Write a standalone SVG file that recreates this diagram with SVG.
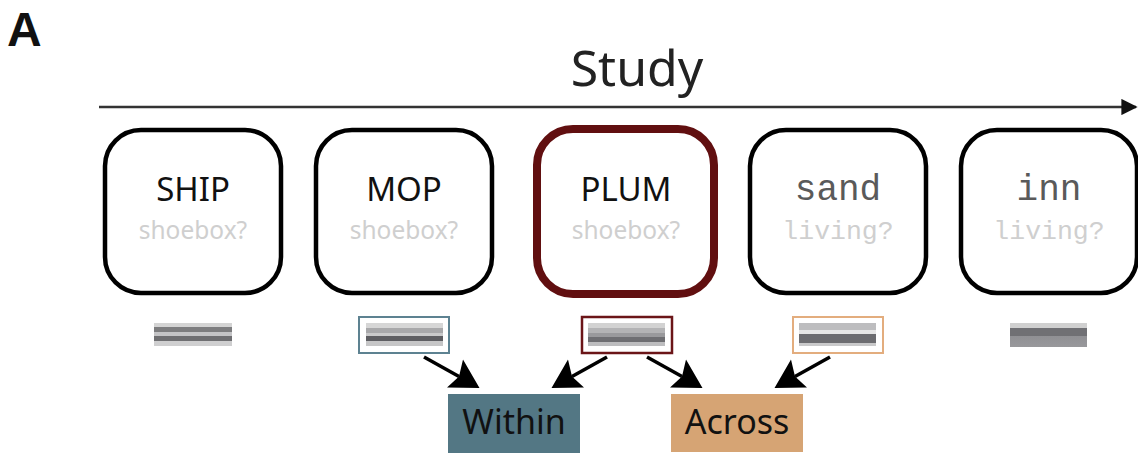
<svg xmlns="http://www.w3.org/2000/svg" width="1138" height="456" viewBox="0 0 1138 456">
<style>
.card{fill:#fff;stroke:#000;stroke-width:4.5}
.word{font-family:"Source Sans Pro","Noto Sans",sans-serif;font-size:33px;fill:#111;text-anchor:middle}
.cue{font-family:"Source Sans Pro","Noto Sans",sans-serif;font-size:24.5px;fill:#cfcfcf;text-anchor:middle}
.mword{font-family:"Liberation Mono",monospace;font-size:36px;fill:#5a5a5a;text-anchor:middle}
.mcue{font-family:"Liberation Mono",monospace;font-size:26.5px;fill:#cfcfcf;text-anchor:middle}
.lab{font-family:"Source Sans Pro","Noto Sans",sans-serif;font-size:34px;fill:#111;text-anchor:middle}
.conn{stroke:#000;stroke-width:3.5;fill:none}
.head{fill:#000}
</style>
<defs>
<marker id="ah2" viewBox="0 0 10 10" refX="9" refY="5" markerWidth="6.5" markerHeight="6.5" orient="auto"><path d="M0,0 L10,5 L0,10 z" fill="#111"/></marker>
<linearGradient id="g1" x1="0" y1="0" x2="0" y2="1">
<stop offset="0" stop-color="#d4d4d4"/><stop offset="0.18" stop-color="#d4d4d4"/>
<stop offset="0.18" stop-color="#7d7d7f"/><stop offset="0.4" stop-color="#7d7d7f"/>
<stop offset="0.4" stop-color="#c4c4c6"/><stop offset="0.58" stop-color="#c4c4c6"/>
<stop offset="0.58" stop-color="#6f6f72"/><stop offset="0.8" stop-color="#6f6f72"/>
<stop offset="0.8" stop-color="#cfcfd0"/><stop offset="1" stop-color="#cfcfd0"/>
</linearGradient>
<linearGradient id="g2" x1="0" y1="0" x2="0" y2="1">
<stop offset="0" stop-color="#d6d6d6"/><stop offset="0.2" stop-color="#d6d6d6"/>
<stop offset="0.2" stop-color="#a8a8aa"/><stop offset="0.45" stop-color="#a8a8aa"/>
<stop offset="0.45" stop-color="#c9c9ca"/><stop offset="0.58" stop-color="#c9c9ca"/>
<stop offset="0.58" stop-color="#5e5e62"/><stop offset="0.8" stop-color="#5e5e62"/>
<stop offset="0.8" stop-color="#c6c6c7"/><stop offset="1" stop-color="#c6c6c7"/>
</linearGradient>
<linearGradient id="g3" x1="0" y1="0" x2="0" y2="1">
<stop offset="0" stop-color="#d2d2d2"/><stop offset="0.2" stop-color="#d2d2d2"/>
<stop offset="0.2" stop-color="#b3b3b5"/><stop offset="0.42" stop-color="#b3b3b5"/>
<stop offset="0.42" stop-color="#99999c"/><stop offset="0.62" stop-color="#99999c"/>
<stop offset="0.62" stop-color="#6e6e72"/><stop offset="0.82" stop-color="#6e6e72"/>
<stop offset="0.82" stop-color="#bdbdbf"/><stop offset="1" stop-color="#bdbdbf"/>
</linearGradient>
<linearGradient id="g4" x1="0" y1="0" x2="0" y2="1">
<stop offset="0" stop-color="#bdbdbf"/><stop offset="0.3" stop-color="#bdbdbf"/>
<stop offset="0.3" stop-color="#e6e6e6"/><stop offset="0.5" stop-color="#e6e6e6"/>
<stop offset="0.5" stop-color="#6c6c70"/><stop offset="0.85" stop-color="#6c6c70"/>
<stop offset="0.85" stop-color="#c9c9ca"/><stop offset="1" stop-color="#c9c9ca"/>
</linearGradient>
<linearGradient id="g5" x1="0" y1="0" x2="0" y2="1">
<stop offset="0" stop-color="#d0d0d0"/><stop offset="0.2" stop-color="#d0d0d0"/>
<stop offset="0.2" stop-color="#707074"/><stop offset="0.55" stop-color="#707074"/>
<stop offset="0.55" stop-color="#909094"/><stop offset="1" stop-color="#98989b"/>
</linearGradient>
</defs>
<rect width="1138" height="456" fill="#fff"/>
<text x="7" y="46" font-family="Liberation Sans,Arial,sans-serif" font-weight="bold" font-size="48" fill="#111">A</text>
<g id="timeline">
<text x="637" y="86" font-family="Source Sans Pro,Noto Sans,sans-serif" font-size="50" fill="#222" text-anchor="middle">Study</text>
<line x1="99" y1="107" x2="1136" y2="107" stroke="#333" stroke-width="2.5" marker-end="url(#ah2)"/>
</g>
<g id="node-ship">
<rect class="card" x="105" y="130" width="176" height="163" rx="36"/>
<text class="word" x="193" y="201">SHIP</text>
<text class="cue" x="193" y="239">shoebox?</text>
</g>
<g id="node-mop">
<rect class="card" x="316" y="130" width="176" height="163" rx="36"/>
<text class="word" x="404" y="201">MOP</text>
<text class="cue" x="404" y="239">shoebox?</text>
</g>
<g id="node-plum">
<rect x="537" y="129" width="177" height="165" rx="36" fill="#fff" stroke="#610f10" stroke-width="8"/>
<text class="word" x="626" y="201">PLUM</text>
<text class="cue" x="626" y="239">shoebox?</text>
</g>
<g id="node-sand">
<rect class="card" x="750" y="130" width="176" height="163" rx="36"/>
<text class="mword" x="838" y="200">sand</text>
<text class="mcue" x="838" y="239">living?</text>
</g>
<g id="node-inn">
<rect class="card" x="961" y="130" width="176" height="163" rx="36"/>
<text class="mword" x="1049" y="200">inn</text>
<text class="mcue" x="1049" y="239">living?</text>
</g>
<g id="bar-ship"><rect x="154" y="323" width="78" height="23" fill="url(#g1)"/></g>
<g id="bar-mop">
<rect x="359" y="317" width="90" height="36" fill="#fff" stroke="#5d8291" stroke-width="2"/>
<rect x="366" y="323" width="77" height="23" fill="url(#g2)"/>
</g>
<g id="bar-plum">
<rect x="582" y="317" width="90" height="36" fill="#fff" stroke="#6b1518" stroke-width="2.5"/>
<rect x="588" y="323" width="77" height="23" fill="url(#g3)"/>
</g>
<g id="bar-sand">
<rect x="793" y="317" width="90" height="36" fill="#fff" stroke="#e3ad7e" stroke-width="2"/>
<rect x="799" y="323" width="77" height="23" fill="url(#g4)"/>
</g>
<g id="bar-inn"><rect x="1010" y="323" width="77" height="24" fill="url(#g5)"/></g>
<g id="node-within">
<rect x="448" y="394" width="132" height="59" fill="#537784"/>
<text class="lab" x="514" y="434">Within</text>
</g>
<g id="node-across">
<rect x="671" y="394" width="132" height="58" fill="#d6a474"/>
<text class="lab" x="737" y="434">Across</text>
</g>
<g id="connectors">
<line class="conn" x1="424" y1="357" x2="459" y2="376.5"/>
<polygon class="head" points="479.5,388 447,387.5 459,376.5 463,359.5"/>
<line class="conn" x1="607" y1="357" x2="572" y2="376.5"/>
<polygon class="head" points="551.5,388 584,387.5 572,376.5 568,359.5"/>
<line class="conn" x1="647" y1="357" x2="682" y2="376.5"/>
<polygon class="head" points="702.5,388 670,387.5 682,376.5 686,359.5"/>
<line class="conn" x1="830" y1="357" x2="795" y2="376.5"/>
<polygon class="head" points="774.5,388 807,387.5 795,376.5 791,359.5"/>
</g>
</svg>
